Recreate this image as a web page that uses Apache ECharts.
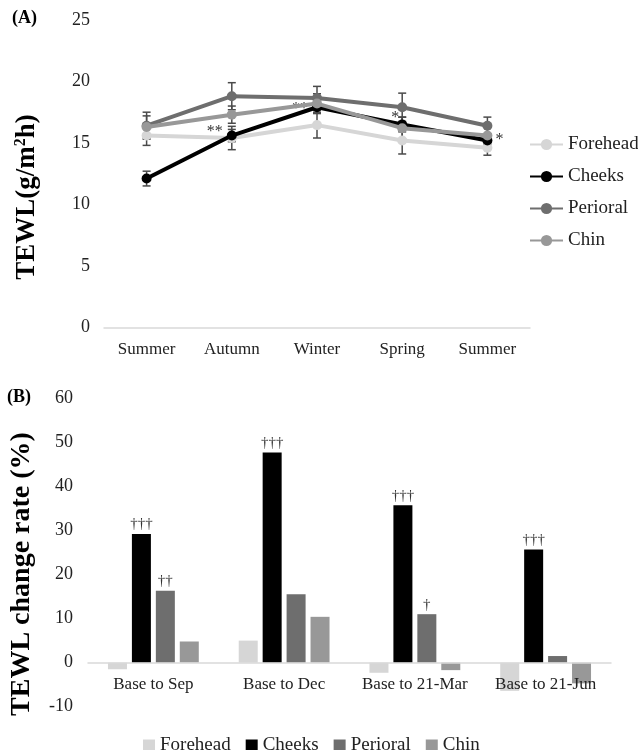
<!DOCTYPE html>
<html>
<head>
<meta charset="utf-8">
<script src="https://cdn.jsdelivr.net/npm/echarts@6/dist/echarts.min.js"></script>
<style>html,body{margin:0;padding:0;background:#fff}#c{width:638px;height:750px}</style>
</head>
<body>
<div id="c"></div>
<script>
// ---- Data: panel A ----
var seasons = ['Summer', 'Autumn', 'Winter', 'Spring', 'Summer'];
var seriesNames = ['Forehead', 'Cheeks', 'Perioral', 'Chin'];
var foreheadA = [15.6, 15.4, 16.45, 15.2, 14.6];
var cheeksA = [12.1, 15.6, 17.9, 16.5, 15.2];
var perioralA = [16.4, 18.8, 18.65, 17.9, 16.4];
var chinA = [16.3, 17.3, 18.2, 16.2, 15.6];
var foreheadErr = [0.8, 0.95, 1.05, 1.1, 0.6];
var cheeksErr = [0.6, 0.5, 0.5, 0.6, 0.5];
var perioralErr = [1.1, 1.1, 0.95, 1.15, 0.7];
var chinErr = [0.9, 0.7, 0.8, 0.9, 0.7];
var cheeksMarks = ['', '**', '**', '*', '*'];
var yTicksA = [0, 5, 10, 15, 20, 25];

// ---- Data: panel B ----
var periods = ['Base to Sep', 'Base to Dec', 'Base to 21-Mar', 'Base to 21-Jun'];
var foreheadB = [-1.5, 5.0, -2.3, -6.4];
var cheeksB = [29.2, 47.7, 35.7, 25.7];
var perioralB = [16.3, 15.5, 11.0, 1.5];
var chinB = [4.8, 10.4, -1.7, -4.7];
var cheeksSig = ['†††', '†††', '†††', '†††'];
var perioralSig = ['††', '', '†', ''];
var yTicksB = [-10, 0, 10, 20, 30, 40, 50, 60];

var colors = ['#d6d6d6', '#000000', '#6e6e6e', '#989898'];
var FONT = '"Liberation Serif", "Times New Roman", serif';

var chart = echarts.init(document.getElementById('c'), null, {renderer: 'canvas'});

var lineData = [foreheadA, cheeksA, perioralA, chinA];
var errData = [foreheadErr, cheeksErr, perioralErr, chinErr];

var markPos = [
  null,
  {position: 'left', distance: 4, offset: [0, -4]},
  {position: 'left', distance: 6, offset: [2, 2]},
  {position: 'top', distance: 2, offset: [-7, 8]},
  {position: 'right', distance: 3, offset: [0, -1]}
];

var series = [];
errData.forEach(function (errs, si) {
  series.push({
    type: 'custom',
    xAxisIndex: 0, yAxisIndex: 0,
    silent: true,
    z: 1,
    data: lineData[si].map(function (v, i) { return [i, v, errs[i]]; }),
    renderItem: function (params, api) {
      var x = api.value(0), v = api.value(1), e = api.value(2);
      var top = api.coord([x, v + e]);
      var bot = api.coord([x, v - e]);
      var hw = 4;
      var st = {stroke: '#4a4a4a', lineWidth: 1.5};
      return {
        type: 'group',
        children: [
          {type: 'line', shape: {x1: top[0], y1: top[1], x2: bot[0], y2: bot[1]}, style: st},
          {type: 'line', shape: {x1: top[0] - hw, y1: top[1], x2: top[0] + hw, y2: top[1]}, style: st},
          {type: 'line', shape: {x1: bot[0] - hw, y1: bot[1], x2: bot[0] + hw, y2: bot[1]}, style: st}
        ]
      };
    }
  });
});

lineData.forEach(function (arr, si) {
  var data = arr.map(function (v, i) {
    if (si === 1 && cheeksMarks[i]) {
      var p = markPos[i];
      return {
        value: v,
        label: {
          show: true, formatter: cheeksMarks[i], position: p.position,
          distance: p.distance, offset: p.offset,
          fontFamily: FONT, fontSize: 16, color: '#333'
        }
      };
    }
    return v;
  });
  series.push({
    name: seriesNames[si],
    type: 'line',
    xAxisIndex: 0, yAxisIndex: 0,
    data: data,
    symbol: 'circle',
    symbolSize: 10,
    z: 3 + si,
    lineStyle: {width: 4, color: colors[si]},
    itemStyle: {color: colors[si]},
    emphasis: {disabled: true},
    animation: false
  });
});

var barData = [foreheadB, cheeksB, perioralB, chinB];
barData.forEach(function (arr, si) {
  var data = arr.map(function (v, i) {
    var sig = si === 1 ? cheeksSig[i] : (si === 2 ? perioralSig[i] : '');
    if (sig) {
      return {value: v, label: {show: true, formatter: sig, position: 'top', distance: 2,
        fontFamily: FONT, fontSize: 15, color: '#333'}};
    }
    return v;
  });
  series.push({
    name: seriesNames[si] + ' ',
    type: 'bar',
    xAxisIndex: 1, yAxisIndex: 1,
    data: data,
    barWidth: 19,
    barGap: '26%',
    itemStyle: {color: colors[si]},
    emphasis: {disabled: true},
    animation: false
  });
});

var option = {
  animation: false,
  backgroundColor: '#fff',
  textStyle: {fontFamily: FONT},
  graphic: [
    {type: 'text', left: 12, top: 9, style: {text: '(A)', font: 'bold 18px ' + FONT, fill: '#000'}},
    {type: 'text', left: 7, top: 388, style: {text: '(B)', font: 'bold 18px ' + FONT, fill: '#000'}},
    {type: 'text', x: 27, y: 197, rotation: Math.PI / 2,
      style: {text: 'TEWL(g/m{sup|2}h)', font: 'bold 27px ' + FONT, fill: '#000', align: 'center', verticalAlign: 'middle',
        rich: {sup: {fontFamily: FONT, fontSize: 16, fontWeight: 'bold', fill: '#000', padding: [0, 0, 12, 0]}}}},
    {type: 'text', x: 22, y: 574, rotation: Math.PI / 2,
      style: {text: 'TEWL change rate (%)', font: 'bold 28px ' + FONT, fill: '#000', align: 'center', verticalAlign: 'middle'}}
  ],
  legend: [
    {
      data: seriesNames,
      orient: 'vertical',
      left: 524, top: 130,
      itemWidth: 33, itemHeight: 14,
      itemGap: 13,
      textStyle: {fontFamily: FONT, fontSize: 19, color: '#222'},
      selectedMode: false
    },
    {
      data: seriesNames.map(function (n) { return n + ' '; }),
      orient: 'horizontal',
      left: 138, top: 731,
      icon: 'rect',
      itemWidth: 12, itemHeight: 12,
      itemGap: 15,
      formatter: function (n) { return n.trim(); },
      textStyle: {fontFamily: FONT, fontSize: 19, color: '#222'},
      selectedMode: false
    }
  ],
  grid: [
    {left: 104, right: 108, top: 20, height: 307.3, outerBoundsMode: 'none'},
    {left: 88, right: 27, top: 398.3, height: 308.4, outerBoundsMode: 'none'}
  ],
  xAxis: [
    {
      type: 'category', gridIndex: 0, data: seasons, boundaryGap: true,
      axisLine: {lineStyle: {color: '#d9d9d9', width: 1.5}},
      axisTick: {show: false},
      axisLabel: {fontFamily: FONT, fontSize: 17, color: '#222', margin: 14, interval: 0}
    },
    {
      type: 'category', gridIndex: 1, data: periods, boundaryGap: true,
      z: 5, position: 'bottom', offset: -44.06,
      axisLine: {onZero: false, lineStyle: {color: '#d9d9d9', width: 1.5}},
      axisTick: {show: false},
      axisLabel: {fontFamily: FONT, fontSize: 17, color: '#222', margin: 13, interval: 0, hideOverlap: false}
    }
  ],
  yAxis: [
    {
      type: 'value', gridIndex: 0, min: yTicksA[0], max: yTicksA[yTicksA.length - 1], interval: yTicksA[1] - yTicksA[0],
      splitLine: {show: false}, axisLine: {show: false}, axisTick: {show: false},
      axisLabel: {fontFamily: FONT, fontSize: 18, color: '#222', margin: 14}
    },
    {
      type: 'value', gridIndex: 1, min: yTicksB[0], max: yTicksB[yTicksB.length - 1], interval: yTicksB[1] - yTicksB[0],
      splitLine: {show: false}, axisLine: {show: false}, axisTick: {show: false},
      axisLabel: {fontFamily: FONT, fontSize: 18, color: '#222', margin: 15}
    }
  ],
  series: series
};
chart.setOption(option);
</script>
</body>
</html>
